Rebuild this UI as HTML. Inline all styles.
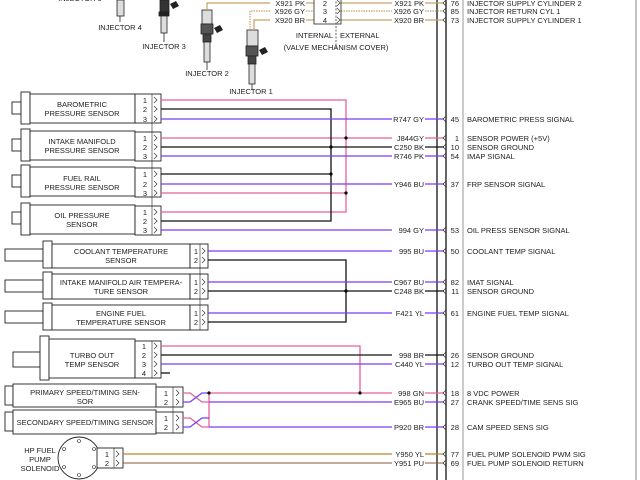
<!DOCTYPE html>
<html><head><meta charset="utf-8"><style>
html,body{margin:0;padding:0;background:#fff;}
svg{display:block;font-family:"Liberation Sans",sans-serif;}
text{font-size:7.5px;fill:#222;}
</style></head><body>
<svg width="640" height="480" viewBox="0 0 640 480" xmlns="http://www.w3.org/2000/svg">
<defs>
<path id="ar" d="M0,-3 L3,0 L0,3" fill="none" stroke="#333" stroke-width="0.7"/>
<path id="al" d="M2,-3 L-1,0 L2,3" fill="none" stroke="#333" stroke-width="0.7"/>
</defs>
<rect width="640" height="480" fill="#fff"/>
<line x1="437" y1="0" x2="437" y2="480" stroke="#555" stroke-width="1.8"/>
<line x1="446" y1="0" x2="446" y2="480" stroke="#000" stroke-width="1.2"/>
<line x1="463" y1="0" x2="463" y2="480" stroke="#999" stroke-width="1"/>
<line x1="636" y1="0" x2="636" y2="480" stroke="#999" stroke-width="1.2"/>

<text x="80" y="1" text-anchor="middle">INJECTOR 5</text>
<text x="120" y="30" text-anchor="middle">INJECTOR 4</text>
<text x="164" y="49" text-anchor="middle">INJECTOR 3</text>
<text x="207" y="76" text-anchor="middle">INJECTOR 2</text>
<text x="251" y="94" text-anchor="middle">INJECTOR 1</text>
<g fill="#ddd" stroke="#222" stroke-width="0.8">
 <rect x="117" y="0" width="7" height="16"/><line x1="120" y1="16" x2="120" y2="22"/>
 <rect x="160" y="0" width="9" height="12" fill="#333"/><rect x="159" y="12" width="10" height="4" fill="#222"/><rect x="161" y="16" width="6" height="17"/><line x1="164" y1="33" x2="164" y2="42"/>
 <rect x="202" y="10" width="10" height="14"/><rect x="201" y="24" width="12" height="10" fill="#555"/><rect x="203" y="34" width="8" height="8" fill="#444"/><rect x="204" y="42" width="6" height="20"/><line x1="207" y1="62" x2="207" y2="70"/>
 <rect x="247" y="30" width="11" height="16"/><rect x="246" y="46" width="12" height="10" fill="#555"/><rect x="248" y="56" width="8" height="8" fill="#444"/><rect x="249" y="64" width="6" height="20"/><line x1="252" y1="84" x2="252" y2="90"/>
</g>
<path d="M170 4 l6 -3 l3 5 l-6 3z M214 28 l6 -3 l3 5 l-6 3z M259 50 l6 -3 l3 5 l-6 3z" fill="#222"/>
<g fill="none" stroke="#c8a060" stroke-width="1.2">
 <polyline points="207,10 207,3 270,3"/>
 <polyline points="250,30 250,11 270,11" stroke-dasharray="1.5,1"/>
 <polyline points="254,30 254,20 270,20"/>
 <line x1="306" y1="3" x2="314" y2="3"/><line x1="306" y1="11" x2="314" y2="11" stroke-dasharray="1.5,1"/><line x1="306" y1="20" x2="314" y2="20"/>
 <line x1="341" y1="3" x2="392" y2="3"/><line x1="341" y1="11" x2="392" y2="11" stroke-dasharray="1.5,1"/><line x1="341" y1="20" x2="392" y2="20"/>
 <line x1="425" y1="3" x2="444" y2="3"/><line x1="425" y1="11" x2="444" y2="11" stroke-dasharray="1.5,1"/><line x1="425" y1="20" x2="444" y2="20"/>
</g>
<rect x="314" y="-2" width="27" height="26" fill="none" stroke="#222" stroke-width="0.8"/>
<line x1="336" y1="-2" x2="336" y2="48" stroke="#222" stroke-width="0.7" stroke-dasharray="2,1.5"/>
<text x="325" y="6" text-anchor="middle">2</text><text x="325" y="14" text-anchor="middle">3</text><text x="325" y="23" text-anchor="middle">4</text>
<g text-anchor="end"><text x="305" y="6">X921 PK</text><text x="305" y="14">X926 GY</text><text x="305" y="23">X920 BR</text>
<text x="424" y="6">X921 PK</text><text x="424" y="14">X926 GY</text><text x="424" y="23">X920 BR</text></g>
<text x="333" y="38" text-anchor="end">INTERNAL</text><text x="340" y="38">EXTERNAL</text>
<text x="336" y="50" text-anchor="middle">(VALVE MECHANISM COVER)</text>

<g fill="#fff" stroke="#222" stroke-width="0.9">
 <rect x="12" y="102" width="9" height="12"/><rect x="21" y="92" width="9" height="32"/><rect x="30" y="94" width="105" height="29"/><rect x="135" y="94" width="26" height="29"/>
 <rect x="12" y="139" width="9" height="12"/><rect x="21" y="129" width="9" height="32"/><rect x="30" y="131" width="105" height="29"/><rect x="135" y="132" width="26" height="29"/>
 <rect x="12" y="175" width="9" height="12"/><rect x="21" y="165" width="9" height="32"/><rect x="30" y="167" width="105" height="29"/><rect x="135" y="168" width="26" height="29"/>
 <rect x="12" y="212" width="9" height="12"/><rect x="21" y="203" width="9" height="32"/><rect x="30" y="205" width="105" height="29"/><rect x="135" y="206" width="26" height="29"/>
</g>
<g text-anchor="middle">
 <text x="82" y="107">BAROMETRIC</text><text x="82" y="116">PRESSURE SENSOR</text>
 <text x="82" y="144">INTAKE MANIFOLD</text><text x="82" y="153">PRESSURE SENSOR</text>
 <text x="82" y="181">FUEL RAIL</text><text x="82" y="190">PRESSURE SENSOR</text>
 <text x="82" y="218">OIL PRESSURE</text><text x="82" y="227">SENSOR</text>
</g>
<g text-anchor="middle">
 <text x="145" y="103">1</text><text x="145" y="112">2</text><text x="145" y="122">3</text>
 <text x="145" y="141">1</text><text x="145" y="150">2</text><text x="145" y="159">3</text>
 <text x="145" y="177">1</text><text x="145" y="187">2</text><text x="145" y="196">3</text>
 <text x="145" y="215">1</text><text x="145" y="224">2</text><text x="145" y="233">3</text>
</g>
<line x1="152" y1="94" x2="152" y2="235" stroke="#222" stroke-width="0.6"/>

<g fill="#fff" stroke="#222" stroke-width="0.9">
 <rect x="5" y="249" width="38" height="12"/><rect x="43" y="241" width="9" height="27"/><rect x="52" y="244" width="138" height="24"/><rect x="190" y="244" width="18" height="24"/>
 <rect x="5" y="280" width="38" height="12"/><rect x="43" y="272" width="9" height="27"/><rect x="52" y="274" width="138" height="25"/><rect x="190" y="274" width="18" height="25"/>
 <rect x="5" y="311" width="38" height="12"/><rect x="43" y="303" width="9" height="27"/><rect x="52" y="305" width="138" height="25"/><rect x="190" y="305" width="18" height="25"/>
 <rect x="13" y="352" width="27" height="15"/><rect x="40" y="336" width="9" height="44"/><rect x="49" y="339" width="86" height="39"/><rect x="135" y="341" width="26" height="37"/>
</g>
<line x1="200" y1="244" x2="200" y2="330" stroke="#222" stroke-width="0.6"/>
<line x1="152" y1="341" x2="152" y2="378" stroke="#222" stroke-width="0.6"/>
<g text-anchor="middle">
 <text x="121" y="254">COOLANT TEMPERATURE</text><text x="121" y="263">SENSOR</text>
 <text x="121" y="285">INTAKE MANIFOLD AIR TEMPERA-</text><text x="121" y="294">TURE SENSOR</text>
 <text x="121" y="316">ENGINE FUEL</text><text x="121" y="325">TEMPERATURE SENSOR</text>
 <text x="92" y="358">TURBO OUT</text><text x="92" y="367">TEMP SENSOR</text>
 <text x="196" y="254">1</text><text x="196" y="263">2</text>
 <text x="196" y="285">1</text><text x="196" y="294">2</text>
 <text x="196" y="316">1</text><text x="196" y="325">2</text>
 <text x="144" y="349">1</text><text x="144" y="358">2</text><text x="144" y="367">3</text><text x="144" y="376">4</text>
</g>

<g fill="#fff" stroke="#222" stroke-width="0.9">
 <rect x="5" y="386" width="8" height="19"/><rect x="13" y="384" width="143" height="23"/><rect x="156" y="387" width="27" height="20"/>
 <rect x="5" y="412" width="8" height="19"/><rect x="13" y="410" width="143" height="24"/><rect x="156" y="412" width="27" height="21"/>
</g>
<line x1="173" y1="387" x2="173" y2="433" stroke="#222" stroke-width="0.6"/>
<g text-anchor="middle">
 <text x="85" y="395">PRIMARY SPEED/TIMING SEN-</text><text x="85" y="404">SOR</text>
 <text x="85" y="425">SECONDARY SPEED/TIMING SENSOR</text>
 <text x="166" y="396">1</text><text x="166" y="405">2</text><text x="166" y="421">1</text><text x="166" y="430">2</text>
</g>

<circle cx="79" cy="458" r="21" fill="#fff" stroke="#222" stroke-width="0.9"/>
<g fill="none" stroke="#222" stroke-width="0.6"><circle cx="79" cy="441" r="1.5"/><circle cx="79" cy="475" r="1.5"/><circle cx="64" cy="449" r="1.5"/><circle cx="94" cy="449" r="1.5"/><circle cx="64" cy="467" r="1.5"/><circle cx="94" cy="467" r="1.5"/></g>
<rect x="97" y="448" width="26" height="20" fill="#fff" stroke="#222" stroke-width="0.9"/>
<line x1="114" y1="448" x2="114" y2="468" stroke="#222" stroke-width="0.6"/>
<text x="107" y="457" text-anchor="middle">1</text><text x="107" y="466" text-anchor="middle">2</text>
<g text-anchor="middle"><text x="40" y="453">HP FUEL</text><text x="40" y="462">PUMP</text><text x="40" y="471">SOLENOID</text></g>

<g fill="none" stroke-width="1.3">
 <g stroke="#e8609a">
  <polyline points="161,100 346,100 346,212 161,212"/>
  <line x1="161" y1="138" x2="392" y2="138"/><line x1="425" y1="138" x2="444" y2="138"/>
  <line x1="161" y1="193" x2="346" y2="193"/>
  <polyline points="161,346 360,346 360,393"/>
  <polyline points="183,393 190,393 202,402 209,402"/>
  <polyline points="183,418 190,418 202,427 209,427 209,393"/>
  <line x1="209" y1="393" x2="392" y2="393"/><line x1="425" y1="393" x2="444" y2="393"/>
 </g>
 <g stroke="#111">
  <polyline points="161,109 331,109 331,221 161,221"/>
  <line x1="161" y1="147" x2="392" y2="147"/><line x1="425" y1="147" x2="444" y2="147"/>
  <line x1="161" y1="174" x2="331" y2="174"/>
  <polyline points="208,260 346,260 346,322 208,322"/>
  <line x1="208" y1="291" x2="392" y2="291"/><line x1="425" y1="291" x2="444" y2="291"/>
  <line x1="161" y1="355" x2="392" y2="355"/><line x1="425" y1="355" x2="444" y2="355"/>
  <line x1="161" y1="373" x2="170" y2="373"/>
 </g>
 <g stroke="#7a3ff0">
  <line x1="161" y1="119" x2="392" y2="119"/><line x1="425" y1="119" x2="444" y2="119"/>
  <line x1="161" y1="156" x2="392" y2="156"/><line x1="425" y1="156" x2="444" y2="156"/>
  <line x1="161" y1="184" x2="392" y2="184"/><line x1="425" y1="184" x2="444" y2="184"/>
  <line x1="161" y1="230" x2="392" y2="230"/><line x1="425" y1="230" x2="444" y2="230"/>
  <line x1="208" y1="251" x2="392" y2="251"/><line x1="425" y1="251" x2="444" y2="251"/>
  <line x1="208" y1="282" x2="392" y2="282"/><line x1="425" y1="282" x2="444" y2="282"/>
  <line x1="208" y1="313" x2="392" y2="313"/><line x1="425" y1="313" x2="444" y2="313"/>
  <line x1="161" y1="364" x2="392" y2="364"/><line x1="425" y1="364" x2="444" y2="364"/>
  <polyline points="183,402 190,402 202,393 209,393"/>
  <line x1="209" y1="402" x2="392" y2="402"/><line x1="425" y1="402" x2="444" y2="402"/>
  <polyline points="183,427 190,427 202,418 209,418"/>
  <line x1="209" y1="427" x2="392" y2="427"/><line x1="425" y1="427" x2="444" y2="427"/>
 </g>
 <g stroke="#b8862b"><line x1="123" y1="454" x2="392" y2="454"/><line x1="425" y1="454" x2="444" y2="454"/></g>
 <g stroke="#8a5a3a" stroke-width="1"><line x1="123" y1="463" x2="392" y2="463"/><line x1="425" y1="463" x2="444" y2="463"/></g>
</g>
<g fill="#000"><circle cx="346" cy="138" r="1.6"/><circle cx="331" cy="147" r="1.6"/><circle cx="331" cy="174" r="1.6"/><circle cx="346" cy="193" r="1.6"/><circle cx="346" cy="291" r="1.6"/><circle cx="360" cy="393" r="1.6"/><circle cx="209" cy="393" r="1.6"/></g>

<!-- connector pin arrows -->
<g>
 <use href="#ar" x="154" y="100"/><use href="#ar" x="154" y="109"/><use href="#ar" x="154" y="119"/>
 <use href="#ar" x="154" y="138"/><use href="#ar" x="154" y="147"/><use href="#ar" x="154" y="156"/>
 <use href="#ar" x="154" y="174"/><use href="#ar" x="154" y="184"/><use href="#ar" x="154" y="193"/>
 <use href="#ar" x="154" y="212"/><use href="#ar" x="154" y="221"/><use href="#ar" x="154" y="230"/>
 <use href="#ar" x="202" y="251"/><use href="#ar" x="202" y="260"/><use href="#ar" x="202" y="282"/><use href="#ar" x="202" y="291"/>
 <use href="#ar" x="202" y="313"/><use href="#ar" x="202" y="322"/>
 <use href="#ar" x="154" y="346"/><use href="#ar" x="154" y="355"/><use href="#ar" x="154" y="364"/><use href="#ar" x="154" y="373"/>
 <use href="#ar" x="176" y="393"/><use href="#ar" x="176" y="402"/><use href="#ar" x="176" y="418"/><use href="#ar" x="176" y="427"/>
 <use href="#ar" x="116" y="454"/><use href="#ar" x="116" y="463"/>
 <use href="#ar" x="337" y="3"/><use href="#ar" x="337" y="11"/><use href="#ar" x="337" y="20"/>
</g>
<g>
 <use href="#al" x="444" y="3"/><use href="#al" x="444" y="11"/><use href="#al" x="444" y="20"/>
 <use href="#al" x="444" y="119"/><use href="#al" x="444" y="138"/><use href="#al" x="444" y="147"/><use href="#al" x="444" y="156"/>
 <use href="#al" x="444" y="184"/><use href="#al" x="444" y="230"/><use href="#al" x="444" y="251"/>
 <use href="#al" x="444" y="282"/><use href="#al" x="444" y="291"/><use href="#al" x="444" y="313"/>
 <use href="#al" x="444" y="355"/><use href="#al" x="444" y="364"/>
 <use href="#al" x="444" y="393"/><use href="#al" x="444" y="402"/><use href="#al" x="444" y="427"/>
 <use href="#al" x="444" y="454"/><use href="#al" x="444" y="463"/>
</g>

<g text-anchor="end">
 <text x="424" y="122">R747 GY</text><text x="424" y="141">J844GY</text><text x="424" y="150">C250 BK</text><text x="424" y="159">R746 PK</text>
 <text x="424" y="187">Y946 BU</text><text x="424" y="233">994 GY</text><text x="424" y="254">995 BU</text>
 <text x="424" y="285">C967 BU</text><text x="424" y="294">C248 BK</text><text x="424" y="316">F421 YL</text>
 <text x="424" y="358">998 BR</text><text x="424" y="367">C440 YL</text>
 <text x="424" y="396">998 GN</text><text x="424" y="405">E965 BU</text><text x="424" y="430">P920 BR</text>
 <text x="424" y="457">Y950 YL</text><text x="424" y="466">Y951 PU</text>
</g>
<g text-anchor="end">
 <text x="459" y="6">76</text><text x="459" y="14">85</text><text x="459" y="23">73</text>
 <text x="459" y="122">45</text><text x="459" y="141">1</text><text x="459" y="150">10</text><text x="459" y="159">54</text>
 <text x="459" y="187">37</text><text x="459" y="233">53</text><text x="459" y="254">50</text>
 <text x="459" y="285">82</text><text x="459" y="294">11</text><text x="459" y="316">61</text>
 <text x="459" y="358">26</text><text x="459" y="367">12</text>
 <text x="459" y="396">18</text><text x="459" y="405">27</text><text x="459" y="430">28</text>
 <text x="459" y="457">77</text><text x="459" y="466">69</text>
</g>
<g>
 <text x="467" y="6">INJECTOR SUPPLY CYLINDER 2</text><text x="467" y="14">INJECTOR RETURN CYL 1</text><text x="467" y="23">INJECTOR SUPPLY CYLINDER 1</text>
 <text x="467" y="122">BAROMETRIC PRESS SIGNAL</text><text x="467" y="141">SENSOR POWER (+5V)</text><text x="467" y="150">SENSOR GROUND</text><text x="467" y="159">IMAP SIGNAL</text>
 <text x="467" y="187">FRP SENSOR SIGNAL</text><text x="467" y="233">OIL PRESS SENSOR SIGNAL</text><text x="467" y="254">COOLANT TEMP SIGNAL</text>
 <text x="467" y="285">IMAT SIGNAL</text><text x="467" y="294">SENSOR GROUND</text><text x="467" y="316">ENGINE FUEL TEMP SIGNAL</text>
 <text x="467" y="358">SENSOR GROUND</text><text x="467" y="367">TURBO OUT TEMP SIGNAL</text>
 <text x="467" y="396">8 VDC POWER</text><text x="467" y="405">CRANK SPEED/TIME SENS SIG</text><text x="467" y="430">CAM SPEED SENS SIG</text>
 <text x="467" y="457">FUEL PUMP SOLENOID PWM SIG</text><text x="467" y="466">FUEL PUMP SOLENOID RETURN</text>
</g>
</svg>
</body></html>
